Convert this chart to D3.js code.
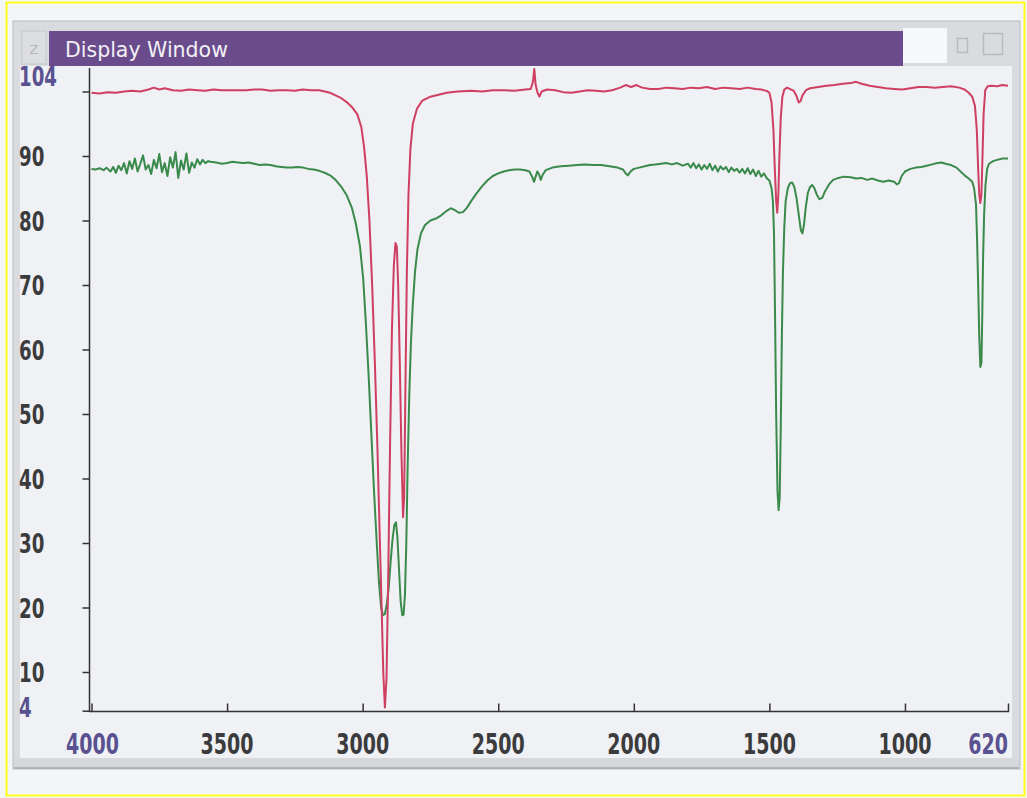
<!DOCTYPE html>
<html>
<head>
<meta charset="utf-8">
<script src="https://cdn.jsdelivr.net/npm/d3@7"></script>
<style>
  html, body { margin: 0; padding: 0; background: #f4f5f7; }
  svg { display: block; }
</style>
</head>
<body>
<svg id="chart" width="1027" height="798"></svg>
<script>
// ---------------- DATA ----------------
const windowTitle = "Display Window";

const xTickValues = [4000, 3500, 3000, 2500, 2000, 1500, 1000, 620];
const xTickLabels = ["4000", "3500", "3000", "2500", "2000", "1500", "1000", "620"];
const xDomain = [4000, 620];

const yTickValues = [100, 90, 80, 70, 60, 50, 40, 30, 20, 10, 4];
const yLabelValues = [104, 90, 80, 70, 60, 50, 40, 30, 20, 10, 4];
const yLabelTexts = ["104", "90", "80", "70", "60", "50", "40", "30", "20", "10", "4"];
const yDomain = [4, 104];

// red spectrum: wavenumber (cm-1) and %T
const redWavenumbers = [4000,3970,3940,3910,3880,3850,3820,3790,3770,3750,3730,3700,3670,3640,3610,3580,3550,3520,3490,3460,3430,3400,3370,3340,3310,3280,3250,3220,3190,3160,3140,3120,3100,3080,3060,3040,3020,3005,2995,2985,2975,2965,2955,2945,2937,2930,2924,2918,2912,2906,2899,2892,2885,2879,2874,2869,2863,2857,2851,2847,2842,2837,2831,2824,2815,2800,2780,2750,2720,2690,2650,2600,2560,2520,2480,2440,2400,2380,2372,2367,2362,2355,2348,2340,2320,2290,2260,2230,2200,2170,2140,2110,2080,2050,2030,2010,1990,1970,1940,1910,1880,1850,1820,1790,1760,1730,1700,1670,1640,1610,1580,1550,1530,1510,1500,1492,1485,1480,1475,1471,1467,1463,1458,1452,1445,1435,1425,1410,1400,1392,1385,1378,1365,1350,1320,1290,1260,1230,1200,1180,1160,1130,1100,1070,1040,1010,980,950,920,890,860,830,800,780,765,752,742,735,730,726,722,718,714,710,704,695,680,660,640,620];
const redValues = [99.8,99.7,99.9,99.8,100.0,100.1,100.0,100.3,100.6,100.3,100.5,100.2,100.1,100.3,100.2,100.1,100.3,100.2,100.2,100.2,100.2,100.3,100.3,100.1,100.2,100.2,100.1,100.3,100.2,100.2,100.0,99.8,99.4,99.0,98.4,97.6,96.5,94.5,91.5,87,80,70,58,44,31,20,10,4.5,9,24,45,63,73,76.5,76,70,58,44,34,37,55,72,84,91,95,97.3,98.6,99.2,99.5,99.8,100.0,100.1,100.0,100.2,100.2,100.1,100.3,100.4,101.5,103.5,101.0,99.8,99.2,100.0,100.3,100.2,99.9,99.8,100.0,100.2,100.1,100.0,100.2,100.6,101.0,100.7,101.0,100.6,100.4,100.4,100.6,100.5,100.4,100.6,100.5,100.7,100.4,100.6,100.5,100.4,100.6,100.4,100.3,100.1,99.8,98.3,94,88,83,81.2,84,90,96,99.2,100.3,100.6,100.4,100.1,99.3,98.3,98.5,99.4,100.2,100.5,100.7,100.9,101.0,101.2,101.3,101.5,101.2,100.9,100.7,100.5,100.4,100.3,100.5,100.7,100.7,100.6,100.7,100.8,100.6,100.3,99.8,99.2,97.8,94,88,84,82.7,84,90,96.5,100.2,100.8,100.9,100.8,101.0,100.9];

// green spectrum: wavenumber (cm-1) and %T
const greenWavenumbers = [4000,3985,3970,3955,3945,3940,3930,3920,3910,3900,3890,3880,3870,3860,3850,3840,3830,3820,3810,3800,3790,3780,3770,3760,3750,3740,3730,3720,3710,3700,3690,3680,3670,3660,3650,3640,3630,3620,3610,3600,3590,3580,3570,3560,3540,3520,3500,3480,3460,3440,3420,3400,3380,3360,3340,3320,3300,3280,3260,3240,3220,3200,3180,3160,3140,3120,3100,3080,3060,3040,3025,3010,2998,2988,2978,2968,2958,2948,2940,2932,2925,2918,2911,2904,2897,2890,2883,2877,2872,2866,2860,2854,2849,2844,2839,2834,2828,2822,2815,2807,2798,2785,2770,2750,2730,2710,2690,2675,2660,2645,2630,2615,2600,2580,2560,2540,2520,2500,2480,2460,2440,2420,2400,2385,2375,2368,2362,2356,2350,2343,2336,2325,2300,2270,2240,2210,2180,2150,2120,2090,2060,2040,2030,2022,2012,2000,1980,1960,1940,1920,1900,1880,1860,1840,1820,1800,1790,1780,1770,1760,1750,1740,1730,1720,1710,1700,1690,1680,1670,1660,1650,1640,1630,1620,1610,1600,1590,1580,1570,1560,1550,1540,1530,1520,1510,1500,1492,1487,1483,1479,1475,1470,1466,1462,1458,1454,1450,1445,1440,1432,1424,1416,1408,1400,1392,1384,1378,1372,1366,1358,1350,1342,1334,1325,1315,1305,1295,1280,1265,1245,1225,1200,1180,1160,1140,1120,1100,1080,1060,1040,1030,1022,1012,1000,980,960,940,920,900,880,865,850,830,810,795,780,765,752,745,738,734,730,726,722,718,715,712,708,703,697,690,675,660,640,620];
const greenValues = [88.0,87.9,88.1,87.8,88.2,88.0,87.6,88.3,87.4,88.5,87.8,88.9,87.3,89.2,88.0,89.6,87.6,88.8,90.1,87.9,88.6,87.2,89.4,88.1,90.3,87.5,88.9,86.9,89.8,88.2,90.6,86.6,89.3,87.9,90.4,87.4,89.0,88.2,89.5,88.7,89.4,88.9,89.2,89.1,89.0,88.8,88.9,89.1,89.0,88.9,89.0,88.8,88.6,88.7,88.6,88.4,88.3,88.2,88.2,88.3,88.2,88.0,87.9,87.7,87.4,87.0,86.3,85.3,84.0,82.0,79.5,76,71,64,56,47,38,30,24,20,18.8,19.0,20.5,23,27,30.5,32.8,33.2,31,26,21,18.8,18.9,22,30,42,53,61,67,72,75.5,78,79.3,80.0,80.3,80.8,81.5,81.9,81.6,81.2,81.3,82.0,83.0,84.2,85.3,86.2,86.9,87.3,87.6,87.8,87.9,87.9,87.8,87.6,86.8,86.0,86.8,87.6,87.2,86.3,87.1,87.8,88.2,88.4,88.5,88.6,88.7,88.6,88.6,88.4,88.2,87.9,87.3,87.0,87.6,88.0,88.2,88.4,88.6,88.7,88.8,88.9,88.7,88.9,88.5,88.8,88.2,88.9,88.1,88.7,87.9,88.6,88.0,88.8,87.8,88.5,87.6,88.4,87.9,88.3,87.5,88.2,87.7,88.0,87.4,88.0,87.3,88.1,87.2,87.9,86.9,87.7,86.8,87.3,86.6,86.2,85.0,83.0,78,65,50,38,35.1,37,48,62,72,79,83,85.0,85.8,85.9,85.2,83.5,81,78.5,78,79.5,82,84.3,85.2,85.5,85.0,84.0,83.3,83.5,84.5,85.6,86.3,86.6,86.8,86.7,86.5,86.6,86.3,86.5,86.2,86.0,86.2,86.0,85.6,85.8,86.9,87.6,88.0,88.2,88.3,88.5,88.7,88.9,89.0,88.8,88.6,88.2,87.6,87.0,86.5,86.0,85.0,82.5,77,70,62,57.3,58,65,74,81,85.5,88.0,88.8,89.2,89.4,89.6,89.6];

// ---------------- DRAW ----------------
const svg = d3.select("#chart");

// yellow outer frame
svg.append("rect").attr("x", 6.5).attr("y", 2.5).attr("width", 1018).attr("height", 793)
  .attr("fill", "#f4f5f7").attr("stroke", "#ffff1a").attr("stroke-width", 2);

// window frame
svg.append("rect").attr("x", 13).attr("y", 21).attr("width", 1007).attr("height", 748)
  .attr("fill", "#d9dbdf").attr("stroke", "#b9bcc1").attr("stroke-width", 1);
// content area
svg.append("rect").attr("x", 20).attr("y", 66).attr("width", 992).attr("height", 692)
  .attr("fill", "#eff1f4");
// title row
svg.append("rect").attr("x", 22).attr("y", 31).attr("width", 24).attr("height", 33)
  .attr("fill", "#dcdee2").attr("stroke", "#c4c6ca");
svg.append("text").attr("x", 34).attr("y", 54).attr("text-anchor", "middle")
  .attr("font-family", "DejaVu Sans").attr("font-size", 13).attr("fill", "#b5b7bb").text("Z");
svg.append("rect").attr("x", 49).attr("y", 31).attr("width", 854).attr("height", 35)
  .attr("fill", "#6a4c8c");
svg.append("text").attr("x", 65).attr("y", 57)
  .attr("font-family", "DejaVu Sans, Verdana, sans-serif").attr("font-size", 20.5)
  .attr("fill", "#f2f0f4").text(windowTitle);
svg.append("rect").attr("x", 903).attr("y", 28).attr("width", 44).attr("height", 35)
  .attr("fill", "#f7f8fa");
svg.append("rect").attr("x", 957.5).attr("y", 38.5).attr("width", 10).attr("height", 14)
  .attr("fill", "none").attr("stroke", "#b8babe").attr("stroke-width", 1.5);
svg.append("rect").attr("x", 983.5).attr("y", 33.5).attr("width", 19).attr("height", 21)
  .attr("fill", "none").attr("stroke", "#b8babe").attr("stroke-width", 1.5);
// bottom band
svg.append("rect").attr("x", 14).attr("y", 758).attr("width", 1005).attr("height", 10)
  .attr("fill", "#d6d8dc");
svg.append("line").attr("x1", 14).attr("x2", 1019).attr("y1", 768).attr("y2", 768)
  .attr("stroke", "#a7aaae").attr("stroke-width", 1.5);

// scales
const x = d3.scaleLinear().domain(xDomain).range([91.5, 1008]);
const y = d3.scaleLinear().domain(yDomain).range([710.7, 65.7]);

// axes
const axisColor = "#333";
const yAxis = svg.append("g").attr("transform", "translate(89.5,0)")
  .call(d3.axisLeft(y).tickValues(yTickValues).tickSize(7).tickFormat(""));
yAxis.select(".domain").remove();
svg.append("line").attr("x1", 89.5).attr("x2", 89.5).attr("y1", 68).attr("y2", 712)
  .attr("stroke", axisColor).attr("stroke-width", 1.5);

const xAxis = svg.append("g").attr("transform", "translate(0,711.5)")
  .call(d3.axisTop(x).tickValues(xTickValues).tickSize(8).tickFormat(""));
xAxis.select(".domain").remove();
svg.append("line").attr("x1", 89).attr("x2", 1009).attr("y1", 711.5).attr("y2", 711.5)
  .attr("stroke", axisColor).attr("stroke-width", 1.5);
svg.selectAll(".tick line").attr("stroke", axisColor).attr("stroke-width", 1.5);

const labelFont = "'DejaVu Sans', sans-serif";
const purple = "#5a5190";
const grey = "#3b3b3d";

// y labels (condensed look via horizontal scaling)
svg.append("g").selectAll("text").data(yLabelValues).join("text")
  .attr("transform", d => {
    let yy = y(d) + 1;
    if (d === yDomain[1]) yy = y(d) + 11;
    if (d === yDomain[0]) yy = y(d) - 3;
    return `translate(19,${yy}) scale(0.7,1)`;
  })
  .attr("dominant-baseline", "central")
  .attr("font-family", labelFont).attr("font-weight", "bold").attr("font-size", 26)
  .attr("fill", d => (d === yDomain[0] || d === yDomain[1]) ? purple : grey)
  .text((d, i) => yLabelTexts[i]);

// x labels
svg.append("g").selectAll("text").data(xTickValues).join("text")
  .attr("transform", d => `translate(${x(d) + (d === 4000 ? 1 : 0)},754) scale(0.68,1)`)
  .attr("text-anchor", d => d === xDomain[1] ? "end" : "middle")
  .attr("font-family", labelFont).attr("font-weight", "bold").attr("font-size", 28)
  .attr("fill", d => (d === xDomain[0] || d === xDomain[1]) ? purple : grey)
  .text((d, i) => xTickLabels[i]);

// spectra
const line = d3.line().x(d => x(d[0])).y(d => y(d[1])).curve(d3.curveLinear);
const greenData = greenWavenumbers.map((w, i) => [w, greenValues[i]]);
const redData = redWavenumbers.map((w, i) => [w, redValues[i]]);

svg.append("path").datum(greenData).attr("d", line)
  .attr("fill", "none").attr("stroke", "#3a8a4c").attr("stroke-width", 2)
  .attr("stroke-linejoin", "round");
svg.append("path").datum(redData).attr("d", line)
  .attr("fill", "none").attr("stroke", "#cf3f62").attr("stroke-width", 2)
  .attr("stroke-linejoin", "round");
</script>
</body>
</html>
